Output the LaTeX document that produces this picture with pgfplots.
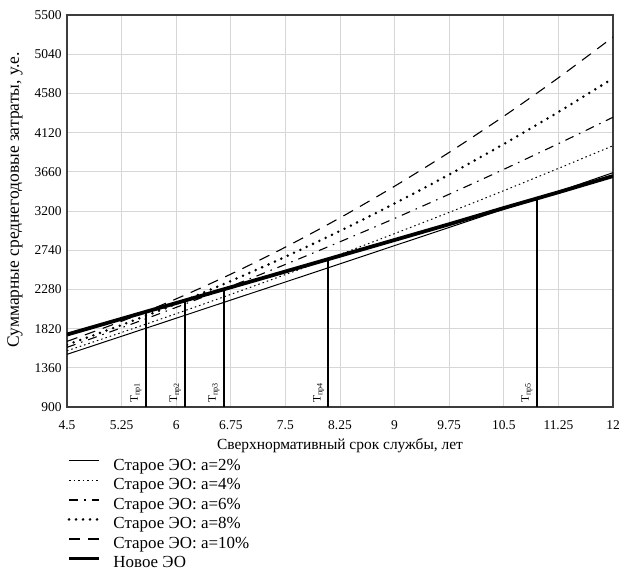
\documentclass[border=0pt]{standalone}
\usepackage{fontspec}
\setmainfont{Liberation Serif}
\usepackage{pgfplots}
\pgfplotsset{compat=1.18}
\definecolor{gridgray}{RGB}{215,215,215}
\definecolor{framegray}{RGB}{60,60,60}
\begin{document}
\begin{tikzpicture}
\useasboundingbox (-67bp,-163bp) rectangle (558bp,15bp+392bp);
\begin{axis}[
  at={(0,0)}, anchor=south west,
  scale only axis, width=546bp, height=392bp,
  xmin=4.5, xmax=12, ymin=900, ymax=5500,
  xtick={4.5,5.25,6,6.75,7.5,8.25,9,9.75,10.5,11.25,12},
  xticklabels={4.5,5.25,6,6.75,7.5,8.25,9,9.75,10.5,11.25,12},
  ytick={900,1360,1820,2280,2740,3200,3660,4120,4580,5040,5500},
  yticklabels={900,1360,1820,2280,2740,3200,3660,4120,4580,5040,5500},
  major tick length=0pt,
  grid=major,
  major grid style={gridgray, line width=0.8bp},
  axis line style={framegray, line width=1.4bp},
  tick label style={font=\fontsize{13.5}{13.5}\selectfont},
  xticklabel style={yshift=-10bp},
  yticklabel style={xshift=-2bp},
  xlabel={Сверхнормативный срок службы, лет},
  ylabel={Суммарные среднегодовые затраты, у.е.},
  every axis x label/.style={at={(axis description cs:0.5,-0.098)}, anchor=center, font=\fontsize{15.5}{15.5}\selectfont},
  every axis y label/.style={at={(axis description cs:-0.0952,0.528)}, anchor=center, rotate=90, font=\fontsize{17.5}{17.5}\selectfont},
  legend style={at={(axis description cs:0,-0.125)}, anchor=north west, draw=none, fill=none,
    font=\fontsize{17}{17}\selectfont, inner sep=0pt,
    nodes={inner sep=0.5bp, text height=13.5bp, text depth=5bp}},
  legend cell align=left,
  legend image code/.code={\draw[#1] (0bp,5bp) -- (30bp,5bp);},
  /tikz/every even column/.append style={column sep=0bp},
]
% old EO a=2%
\addplot[black, line width=1bp, smooth] coordinates {(4.5,1518) (5.25,1730) (6,1942) (6.75,2155) (7.5,2367) (8.25,2580) (9,2794) (9.75,3007) (10.5,3221) (11.25,3430) (12,3650)};
\addlegendentry{\hspace{12bp}Старое ЭО: a=2\%}
% a=4%
\addplot[black, line width=1bp, smooth, dash pattern=on 1.5bp off 3bp] coordinates {(4.5,1560) (5.25,1775) (6,1995) (6.75,2222) (7.5,2454) (8.25,2691) (9,2935) (9.75,3184) (10.5,3439) (11.25,3700) (12,3966)};
\addlegendentry{\hspace{12bp}Старое ЭО: a=4\%}
% a=6%
\addplot[black, line width=1.1bp, smooth, dash pattern=on 9bp off 6bp on 1.5bp off 6bp] coordinates {(4.5,1600) (5.25,1830) (6,2069) (6.75,2317) (7.5,2573) (8.25,2839) (9,3113) (9.75,3397) (10.5,3689) (11.25,3990) (12,4300)};
\addlegendentry{\hspace{12bp}Старое ЭО: a=6\%}
% a=8%
\addplot[black, line width=2.8bp, smooth, line cap=round, dash pattern=on 0bp off 7bp] coordinates {(4.5,1631) (5.25,1862) (6,2110) (6.75,2378) (7.5,2663) (8.25,2966) (9,3288) (9.75,3628) (10.5,3986) (11.25,4362) (12,4757)};
\addlegendentry{\hspace{12bp}Старое ЭО: a=8\%}
% a=10%
\addplot[black, line width=1.1bp, smooth, dash pattern=on 11bp off 8bp] coordinates {(4.5,1670) (5.25,1906) (6,2169) (6.75,2459) (7.5,2776) (8.25,3120) (9,3491) (9.75,3888) (10.5,4312) (11.25,4763) (12,5241)};
\addlegendentry{\hspace{12bp}Старое ЭО: a=10\%}
% new EO
\addplot[black, line width=3.8bp] coordinates {(4.5,1750) (5.25,1935) (6,2120) (6.75,2305) (7.5,2490) (8.25,2675) (9,2860) (9.75,3045) (10.5,3235) (11.25,3420) (12,3610)};
\addlegendentry{\hspace{12bp}Новое ЭО}
% vertical lines
\addplot[black, line width=2bp, forget plot] coordinates {(5.58,900) (5.58,2016)};
\addplot[black, line width=2bp, forget plot] coordinates {(6.12,900) (6.12,2150)};
\addplot[black, line width=2bp, forget plot] coordinates {(6.65,900) (6.65,2280)};
\addplot[black, line width=2bp, forget plot] coordinates {(8.09,900) (8.09,2636)};
\addplot[black, line width=2bp, forget plot] coordinates {(10.95,900) (10.95,3346)};
\node[rotate=90, anchor=south west, inner sep=4bp, font=\fontsize{11.5}{11.5}\selectfont] at (axis cs:5.58,900) {T\textsubscript{пр1}};
\node[rotate=90, anchor=south west, inner sep=4bp, font=\fontsize{11.5}{11.5}\selectfont] at (axis cs:6.12,900) {T\textsubscript{пр2}};
\node[rotate=90, anchor=south west, inner sep=4bp, font=\fontsize{11.5}{11.5}\selectfont] at (axis cs:6.65,900) {T\textsubscript{пр3}};
\node[rotate=90, anchor=south west, inner sep=4bp, font=\fontsize{11.5}{11.5}\selectfont] at (axis cs:8.09,900) {T\textsubscript{пр4}};
\node[rotate=90, anchor=south west, inner sep=4bp, font=\fontsize{11.5}{11.5}\selectfont] at (axis cs:10.95,900) {T\textsubscript{пр5}};
\end{axis}
\end{tikzpicture}
\end{document}
